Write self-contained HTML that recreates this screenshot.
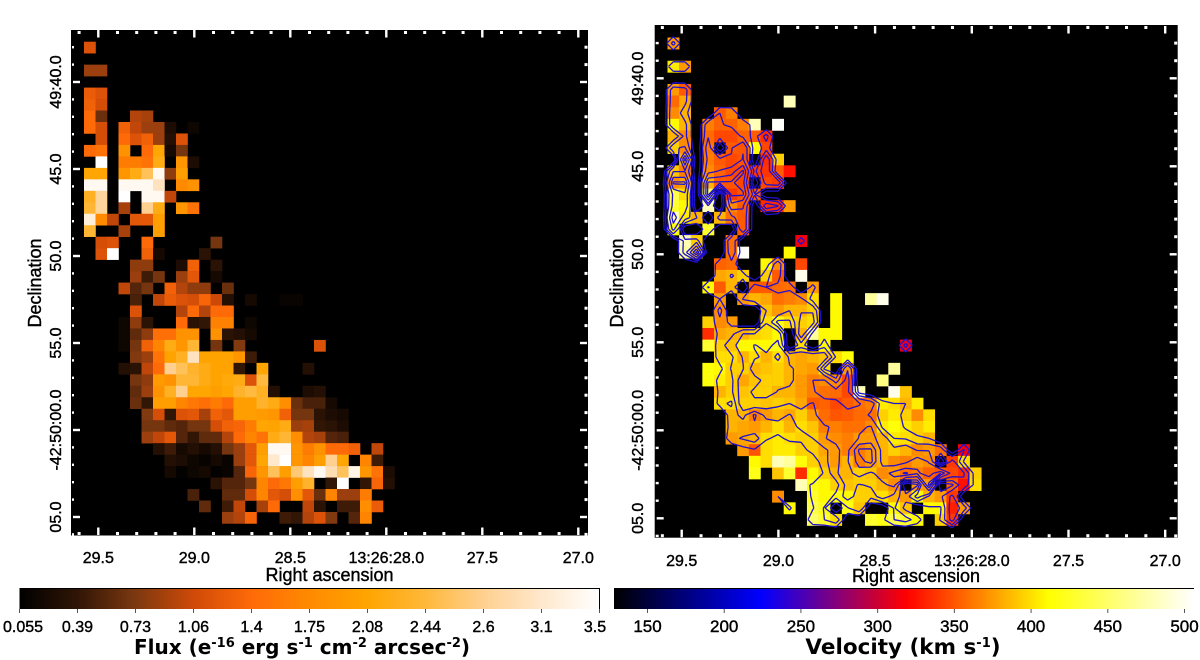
<!DOCTYPE html>
<html>
<head>
<meta charset="utf-8">
<title>Flux and velocity maps</title>
<style>
html,body{margin:0;padding:0;background:#fff;width:1200px;height:660px;overflow:hidden}
svg{display:block}
text{font-family:"Liberation Sans",Arial,sans-serif;fill:#000}
.tick-text{font-size:16px;stroke:#000;stroke-width:.4px}
.axis-title{font-size:18px;stroke:#000;stroke-width:.4px}
.bar-title{font-family:"DejaVu Sans",sans-serif;font-weight:bold;font-size:20px}
.bar-title tspan{font-size:13px}
</style>
</head>
<body>
<svg id="chart" xmlns="http://www.w3.org/2000/svg" width="1200" height="660" viewBox="0 0 1200 660">
  <defs>
    <linearGradient id="flux-gradient" x1="0" x2="1" y1="0" y2="0"></linearGradient>
    <linearGradient id="velocity-gradient" x1="0" x2="1" y1="0" y2="0"></linearGradient>
  </defs>
  <rect width="1200" height="660" fill="#fff"/>
  <rect x="71" y="30" width="517" height="505.5" fill="#000"/>
  <rect x="654.7" y="25" width="523" height="512.7" fill="#000"/>
  <g id="flux-cells"></g>
  <g id="velocity-cells"></g>
  <g id="contours" fill="none" stroke="#2010d0" stroke-width="1.3" stroke-linejoin="round"></g>
  <g id="ticks" fill="#fff"></g>
  <g id="labels"></g>

  <text class="axis-title" x="329.5" y="581" text-anchor="middle">Right ascension</text>
  <text class="axis-title" x="916" y="582" text-anchor="middle">Right ascension</text>
  <text class="axis-title" transform="translate(41,283) rotate(-90)" text-anchor="middle">Declination</text>
  <text class="axis-title" transform="translate(623,283) rotate(-90)" text-anchor="middle">Declination</text>

  <rect x="19.5" y="588" width="580" height="21" fill="url(#flux-gradient)"/>
  <path d="M19.5 588.5H599.5V609" fill="none" stroke="#000" stroke-width="1"/>
  <rect x="614" y="588" width="580" height="21" fill="url(#velocity-gradient)"/>
  <path d="M614 588.5H1194" fill="none" stroke="#000" stroke-width="1"/>
  <g id="bar-ticks" fill="#555"></g>
  <g id="bar-labels"></g>

  <text class="bar-title" x="302" y="654" text-anchor="middle">Flux (e<tspan dy="-7">-16</tspan><tspan dy="7" style="font-size:20px"> erg s</tspan><tspan dy="-7">-1</tspan><tspan dy="7" style="font-size:20px"> cm</tspan><tspan dy="-7">-2</tspan><tspan dy="7" style="font-size:20px"> arcsec</tspan><tspan dy="-7">-2</tspan><tspan dy="7" style="font-size:20px">)</tspan></text>
  <text class="bar-title" x="903" y="654" text-anchor="middle" style="font-size:21.5px">Velocity (km s<tspan dy="-7">-1</tspan><tspan dy="7" style="font-size:21.5px">)</tspan></text>
</svg>

<script>
const raTickValues = [29.5, 29.0, 28.5, 28.0, 27.5, 27.0];
const raTickLabels = ["29.5", "29.0", "28.5", "13:26:28.0", "27.5", "27.0"];
const decTickValues = [40, 45, 50, 55, 60, 65];
const decTickLabels = ["49:40.0", "45.0", "50.0", "55.0", "-42:50:00.0", "05.0"];
const fluxBarTicks = [0.055, 0.39, 0.73, 1.06, 1.4, 1.75, 2.08, 2.44, 2.6, 3.1, 3.5];
const fluxBarLabels = ["0.055", "0.39", "0.73", "1.06", "1.4", "1.75", "2.08", "2.44", "2.6", "3.1", "3.5"];
const velocityBarTicks = [150, 200, 250, 300, 350, 400, 450, 500];
const contourLevels = [0.5, 0.95, 1.45, 2.15, 2.8, 3.3];

const fluxRows = [
[1.15],
[],
[.85,.85],
[],
[1.25,1.15],
[1.3,1.1],
[1.4,.65,0,0,.95,.9],
[1.4,1.1,0,1.3,1.0,.85,.85,.25,0,.15],
[0,1.1,0,1.4,1.15,1.3,.85,.3,1.15],
[1.4,1.5,0,1.85,0,1.4,2.1,.2,.7],
[0,3.5,0,1.6,1.6,1.5,2.2,0,1.9,.25],
[2.1,2.1,0,1.9,2.2,2.5,3.4,.8,2.0],
[3.4,3.4,0,3.4,3.4,3.4,3.0,0,1.75,1.85],
[2.3,2.7,0,3.5,0,3.4,3.4,1.0],
[2.4,2.7,0,.9,0,2.6,2.2,0,1.9,1.5],
[3.2,1.75,1.0,0,1.2,1.2,2.0],
[2.4,0,0,.9,0,0,2.0],
[0,1.1,1.15,0,0,1.4,0,0,0,0,0,.7],
[0,1.15,3.5,0,0,1.3,.2,0,0,0,.35],
[0,0,0,0,.8,.8,0,0,.25,1.3,0,.35],
[0,0,0,0,.85,.45,.7,0,.85,1.2,0,.2],
[0,0,0,1.0,.55,.7,0,1.3,.95,.8,.8,0,.65],
[0,0,0,0,.5,0,1.0,1.25,1.15,1.1,1.35,1.05,.3,0,.2,0,0,.12,.12],
[0,0,0,0,1.15,0,0,0,.95,1.4,.95,1.4,1.4],
[0,0,0,.15,.8,.35,0,0,1.4,.35,.4,1.65,1.65,0,.15],
[0,0,0,.15,.6,.8,1.45,1.45,1.85,1.85,0,1.85,.35,.3,.2],
[0,0,0,.15,.7,1.3,1.7,2.2,1.9,2.4,0,.7,0,.75,0,0,0,0,0,0,1.15],
[0,0,0,0,.75,.85,1.5,2.05,2.3,3.0,2.05,2.05,2.05,1.9,.45],
[0,0,0,.3,.35,1.0,1.4,2.6,2.5,2.35,2.2,2.05,2.05,.4,0,2.1,0,0,0,.3],
[0,0,0,0,.7,.8,1.95,1.85,2.4,2.4,2.2,2.05,2.15,2.2,1.15,2.45],
[0,0,0,0,.6,.85,1.85,2.3,2.6,2.1,2.1,2.0,2.1,2.35,2.45,2.3,.3,0,0,.25,.3],
[0,0,0,0,.65,.4,2.0,2.0,1.7,1.55,1.45,1.6,1.4,2.0,2.0,2.35,2.2,1.8,.65,.5,.5,.2],
[0,0,0,0,0,.75,1.1,.4,1.15,1.2,.9,1.3,1.2,2.0,2.0,1.95,1.9,1.3,.7,.7,.35,.25,.2],
[0,0,0,0,0,.7,.7,.6,.55,.7,.7,1.1,1.3,1.35,1.6,2.1,2.05,2.2,.85,.9,.4,.35,.25],
[0,0,0,0,0,.85,1.0,1.2,.55,.4,.6,.6,.95,1.4,1.7,1.5,2.2,2.4,1.8,.95,.9,.55,.5],
[0,0,0,0,0,0,.3,.45,.2,.3,.2,.3,.7,.85,1.2,2.0,3.4,3.4,1.9,1.6,1.85,1.4,1.4,1.3,0,1.0],
[0,0,0,0,0,0,0,.3,.25,.15,.1,.2,.12,.85,1.2,2.1,3.1,3.5,1.9,1.7,2.0,2.6,2.1,0,1.7,.45],
[0,0,0,0,0,0,0,.2,.08,.15,.2,.08,.12,.55,1.35,1.9,2.5,2.0,2.55,3.0,3.4,2.9,2.5,3.3,1.9,1.5,.25],
[0,0,0,0,0,0,0,0,0,0,0,.35,.55,.55,.7,1.7,1.4,1.55,2.0,2.35,0,.4,3.5,0,.4,1.35,.3],
[0,0,0,0,0,0,0,0,0,.5,0,0,.6,.6,1.1,1.7,1.2,1.1,1.8,1.2,.65,1.7,.85,.85,1.6],
[0,0,0,0,0,0,0,0,0,0,.6,0,.45,1.0,0,.9,1.4,0,0,1.0,.35,0,.45,.45,1.8,1.25],
[0,0,0,0,0,0,0,0,0,0,0,0,.85,.95,1.35,0,0,.45,.4,.95,1.15,.75,0,.55,1.7]
];

const velocityRows = [
[375],
[],
[405,375],
[],
[375,352],
[358,380,0,0,0,0,0,0,0,0,480],
[370,385,0,0,352,365],
[410,385,0,365,355,355,365,480,0,505],
[385,370,0,358,345,345,355,352,335],
[395,370,0,362,0,352,350,415,345],
[0,385,0,365,352,345,350,0,335,395],
[390,365,0,370,355,345,345,340,338,352,325],
[370,380,0,385,352,350,345,0,345,340],
[440,400,0,450,0,340,350,352],
[430,410,0,480,0,370,352,0,335,335,375],
[480,405,385,0,385,360,352],
[415,0,0,430,0,0,352],
[0,480,395,0,0,360,0,0,0,0,0,315],
[0,470,390,0,0,360,505,0,0,0,410],
[0,0,0,0,355,358,0,0,410,370,0,345],
[0,0,0,0,380,385,395,0,395,352,0,500],
[0,0,0,410,352,385,0,352,352,358,360,0,375],
[0,0,0,0,375,0,375,385,380,360,365,370,400,0,410,0,0,470,500],
[0,0,0,0,370,0,0,0,390,375,385,385,395,0,410],
[0,0,0,395,370,375,0,0,400,420,400,395,400,0,410],
[0,0,0,335,380,385,385,395,400,410,0,385,470,410,410],
[0,0,0,430,395,390,410,410,410,420,0,400,0,410,0,0,0,0,0,0,310],
[0,0,0,0,400,400,385,400,385,400,385,380,385,390,400,415],
[0,0,0,415,410,395,395,385,390,395,385,380,375,400,0,375,0,0,0,470],
[0,0,0,415,405,395,380,390,395,395,385,375,365,370,370,345,0,0,460],
[0,0,0,0,385,395,390,395,395,385,385,375,365,360,358,345,480,0,0,500,390],
[0,0,0,0,400,400,395,395,390,395,390,380,352,355,345,352,360,365,405,400,385,405],
[0,0,0,0,0,385,385,365,375,385,380,395,375,358,350,352,358,360,395,405,395,370,400],
[0,0,0,0,0,385,380,375,385,400,385,400,390,365,365,360,360,370,405,415,405,395,405],
[0,0,0,0,0,375,380,385,400,405,400,395,395,375,370,365,375,375,385,405,400,395,385],
[0,0,0,0,0,0,375,350,400,405,405,395,395,380,375,365,365,375,385,395,385,370,375,360,0,315],
[0,0,0,0,0,0,0,410,400,480,470,415,395,385,375,385,365,375,385,370,365,375,370,0,340,400],
[0,0,0,0,0,0,0,420,0,390,430,335,410,395,385,385,395,390,370,375,360,365,355,350,345,335,395],
[0,0,0,0,0,0,0,0,0,0,0,480,420,410,395,390,395,395,385,370,0,375,375,0,355,325,400],
[0,0,0,0,0,0,0,0,0,370,0,0,430,410,415,410,395,395,400,385,375,410,385,375,340],
[0,0,0,0,0,0,0,0,0,0,410,0,440,420,0,420,390,0,0,410,390,0,410,410,330,375],
[0,0,0,0,0,0,0,0,0,0,0,0,450,430,400,0,0,430,420,440,430,410,0,395,340]
];

const fluxStops = ["#000000","#301505","#7c3810","#cf4a08","#ff6a08","#ff8a00","#ffa500","#ffb83a","#ffd090","#ffe8cc","#ffffff"];
const velocityStopValues = [128, 224, 319, 412, 507];
const velocityStops = ["#000000","#0000ff","#ff0000","#ffff00","#ffffff"];

const NS = "http://www.w3.org/2000/svg";
function make(tag, attrs, parent) {
  const el = document.createElementNS(NS, tag);
  for (const k in attrs) el.setAttribute(k, attrs[k]);
  parent.appendChild(el);
  return el;
}
function hex(c) { return [1, 3, 5].map(i => parseInt(c.substr(i, 2), 16)); }
function ramp(domain, colors, v) {
  if (v <= domain[0]) return colors[0];
  for (let i = 1; i < domain.length; i++) {
    if (v <= domain[i]) {
      const t = (v - domain[i - 1]) / (domain[i] - domain[i - 1]);
      const a = hex(colors[i - 1]), b = hex(colors[i]);
      return "rgb(" + a.map((x, j) => Math.round(x + (b[j] - x) * t)).join(",") + ")";
    }
  }
  return colors[colors.length - 1];
}
const fluxColor = v => ramp(fluxBarTicks, fluxStops, v);
const velocityColor = v => ramp(velocityStopValues, velocityStops, v);

const fluxPanel = { x0: 84, y0: 41.7, dx: 11.5, dy: 11.47, left: 71, right: 588, top: 30, bottom: 535.5,
  ra: s => 98.3 + (29.5 - s) * 192, dec: d => 82 + (d - 40) * 17.4, sideMinorL: 2, sideMajorL: 7, majorTop: 30 };
const velPanel = { x0: 667.5, y0: 37.5, dx: 11.62, dy: 11.62, left: 654.7, right: 1177.7, top: 25, bottom: 537.7,
  ra: s => 681.7 + (29.5 - s) * 193.4, dec: d => 78.3 + (d - 40) * 17.6, sideMinorL: 3, sideMajorL: 7, majorTop: 26 };

function colX(p, c) { return p.x0 + p.dx * c; }
function rowY(p, r) { return p.y0 + p.dy * r; }

function drawCells(rows, panel, colorFn, parentId, cellName) {
  const g = document.getElementById(parentId);
  rows.forEach((row, r) => {
    row.forEach((v, c) => {
      if (!v) return;
      const el = make("rect", { x: colX(panel, c), y: rowY(panel, r), width: panel.dx + 0.3, height: panel.dy + 0.3, fill: colorFn(v) }, g);
      
      
    });
  });
}
drawCells(fluxRows, fluxPanel, fluxColor, "flux-cells", "flux-cell");
drawCells(velocityRows, velPanel, velocityColor, "velocity-cells", "velocity-cell");

/* Marching squares over the flux grid, drawn on the velocity panel */
function fluxAt(r, c) {
  const row = fluxRows[r];
  return row && row[c] ? row[c] : 0;
}
function contourPath(level, panel) {
  let d = "";
  const px = c => colX(panel, c + 0.5), py = r => rowY(panel, r + 0.5);
  const lerp = (a, b) => (level - a) / (b - a);
  for (let r = -1; r < fluxRows.length; r++) {
    for (let c = -1; c < 27; c++) {
      const a = fluxAt(r, c), b = fluxAt(r, c + 1), e = fluxAt(r + 1, c + 1), f = fluxAt(r + 1, c);
      const code = (a >= level ? 8 : 0) | (b >= level ? 4 : 0) | (e >= level ? 2 : 0) | (f >= level ? 1 : 0);
      if (code === 0 || code === 15) continue;
      const T = () => [px(c + lerp(a, b)), py(r)];
      const R = () => [px(c + 1), py(r + lerp(b, e))];
      const B = () => [px(c + lerp(f, e)), py(r + 1)];
      const L = () => [px(c), py(r + lerp(a, f))];
      const segs = {
        1: [[L, B]], 2: [[B, R]], 3: [[L, R]], 4: [[T, R]], 5: [[T, L], [B, R]], 6: [[T, B]], 7: [[T, L]],
        8: [[T, L]], 9: [[T, B]], 10: [[T, R], [L, B]], 11: [[T, R]], 12: [[L, R]], 13: [[B, R]], 14: [[L, B]]
      }[code];
      segs.forEach(s => {
        const p = s[0](), q = s[1]();
        d += "M" + p[0].toFixed(1) + " " + p[1].toFixed(1) + "L" + q[0].toFixed(1) + " " + q[1].toFixed(1);
      });
    }
  }
  return d;
}
const contourGroup = document.getElementById("contours");
contourLevels.forEach(level => {
  const el = make("path", { d: contourPath(level, velPanel) }, contourGroup);
  
  
});

/* Axis ticks */
const tickGroup = document.getElementById("ticks");
const labelGroup = document.getElementById("labels");
function tickRect(x, y, w, h) {
  const el = make("rect", { x: x, y: y, width: w, height: h }, tickGroup);
  
  
}
function drawAxes(p, xLabelY, yLabelX) {
  const raMajors = raTickValues;
  for (let s = 29.9; s > 26.5; s -= 0.1) {
    const x = p.ra(s);
    if (x < p.left + 2 || x > p.right - 2) continue;
    const isMajor = raMajors.some(m => Math.abs(m - s) < 0.01);
    if (isMajor) {
      tickRect(x - 1.2, p.majorTop, 2.4, 7.5);
      tickRect(x - 1.2, p.bottom - 8, 2.4, 7.5);
    } else {
      tickRect(x - 1.5, p.top + 1, 3, 3);
      tickRect(x - 1.5, p.bottom - 3.5, 3, 3);
    }
  }
  for (let d = 36; d < 70; d += 1) {
    const y = p.dec(d);
    if (y < p.top + 6 || y > p.bottom) continue;
    const isMajor = decTickValues.indexOf(d) >= 0;
    if (isMajor) {
      tickRect(p.left + 2, y - 1.2, p.sideMajorL, 2.4);
      tickRect(p.right - 8, y - 1.2, 7, 2.4);
    } else {
      tickRect(p.left + 1, y - 1.2, p.sideMinorL, 2.4);
      tickRect(p.right - 3.5, y - 1.5, 3, 3);
    }
  }
  raTickValues.forEach((v, i) => {
    const t = make("text", { class: "tick-text", x: p.ra(v), y: xLabelY, "text-anchor": "middle" }, labelGroup);
    t.textContent = raTickLabels[i];
    
    
  });
  decTickValues.forEach((v, i) => {
    const t = make("text", { class: "tick-text", "text-anchor": "middle", transform: "translate(" + yLabelX + "," + p.dec(v) + ") rotate(-90)" }, labelGroup);
    t.textContent = decTickLabels[i];
    
    
  });
}
drawAxes(fluxPanel, 563, 61);
drawAxes(velPanel, 566, 643);

/* Colorbars */
const fluxGrad = document.getElementById("flux-gradient");
fluxStops.forEach((c, i) => {
  make("stop", { offset: i / (fluxStops.length - 1), "stop-color": c }, fluxGrad);
});
const velGrad = document.getElementById("velocity-gradient");
velocityStops.forEach((c, i) => {
  make("stop", { offset: (velocityStopValues[i] - 128) / (507 - 128), "stop-color": c }, velGrad);
});
const barTicks = document.getElementById("bar-ticks");
const barLabels = document.getElementById("bar-labels");
const fluxBarX = i => 19.5 + 58 * i;
const velBarX = v => 647.5 + (v - 150) * 1.5343;
fluxBarTicks.forEach((v, i) => {
  const x = fluxBarX(i);
  const tk = make("rect", { x: x - 0.5, y: 609, width: 1, height: 4 }, barTicks);
  
  
  const t = make("text", { class: "tick-text", x: Math.min(595, Math.max(23, x)), y: 632, "text-anchor": "middle" }, barLabels);
  t.textContent = fluxBarLabels[i];
  
  
});
velocityBarTicks.forEach(v => {
  const x = velBarX(v);
  const tk = make("rect", { x: x - 0.5, y: 609, width: 1, height: 4 }, barTicks);
  
  
  const t = make("text", { class: "tick-text", x: x, y: 632, "text-anchor": "middle", style: "font-size:17px" }, barLabels);
  t.textContent = String(v);
  
  
});
</script>
</body>
</html>
